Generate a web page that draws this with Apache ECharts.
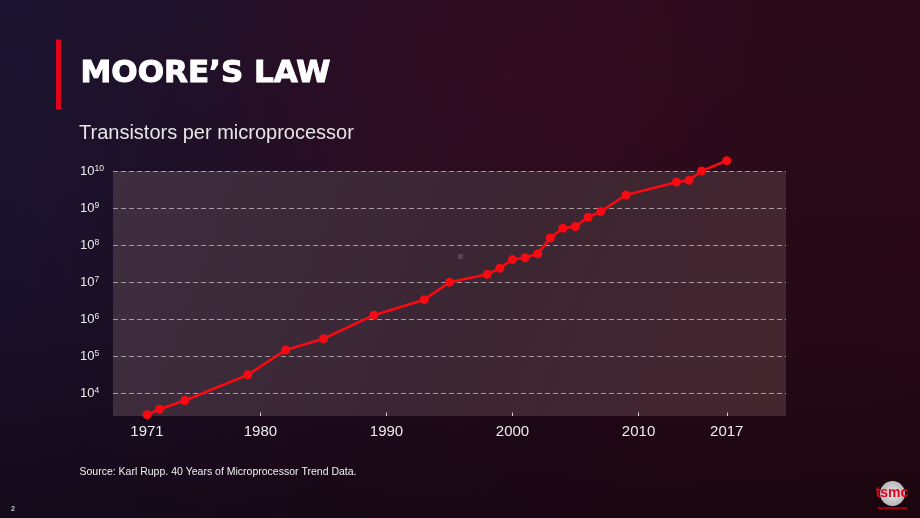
<!DOCTYPE html>
<html>
<head>
<meta charset="utf-8">
<script src="https://cdn.jsdelivr.net/npm/echarts@6/dist/echarts.min.js"></script>
<style>
html,body{margin:0;padding:0;background:#1e0d1f;}
#chart{width:920px;height:518px;}
</style>
</head>
<body>
<div id="chart"></div>
<script>
// ---- data ----
const years = [1971, 1972, 1974, 1979, 1982, 1985, 1989, 1993, 1995, 1998, 1999, 2000, 2001, 2002, 2003, 2004, 2005, 2006, 2007, 2009, 2013, 2014, 2015, 2017];
const transistors = [2700, 3800, 6500, 32000, 150000, 300000, 1300000, 3400000, 10000000, 16500000, 24000000, 41000000, 46000000, 59000000, 156000000, 285000000, 320000000, 565000000, 805000000, 2250000000, 5000000000, 5600000000, 10000000000, 19000000000];
const xTickLabels = [1971, 1980, 1990, 2000, 2010, 2017];
const xTickMarks = [1980, 1990, 2000, 2010, 2017];
const titleText = 'MOORE\u2019S LAW';
const subtitleText = 'Transistors per microprocessor';
const sourceText = 'Source: Karl Rupp. 40 Years of Microprocessor Trend Data.';
const pageNumber = '2';

const chart = echarts.init(document.getElementById('chart'), null, {renderer: 'canvas'});

const sans = '"Liberation Sans", Arial, Helvetica, sans-serif';

const option = {
  animation: false,
  backgroundColor: new echarts.graphic.LinearGradient(0, 0, 1, 0, [
    {offset: 0, color: '#1a1430'},
    {offset: 0.35, color: '#230e25'},
    {offset: 0.7, color: '#2a0b1b'},
    {offset: 1, color: '#2b0a17'}
  ]),
  graphic: [
    {type: 'rect', z: -10, silent: true, shape: {x: 0, y: 0, width: 920, height: 518},
     style: {fill: new echarts.graphic.LinearGradient(0, 0, 0, 1, [
       {offset: 0, color: 'rgba(40,8,22,0.0)'},
       {offset: 0.55, color: 'rgba(20,4,12,0.15)'},
       {offset: 1, color: 'rgba(12,2,8,0.55)'}
     ])}},
    {type: 'rect', z: -9, silent: true, shape: {x: 0, y: 0, width: 920, height: 518},
     style: {fill: new echarts.graphic.RadialGradient(0.55, 0.15, 0.6, [
       {offset: 0, color: 'rgba(70,12,35,0.35)'},
       {offset: 1, color: 'rgba(70,12,35,0)'}
     ])}},
    {type: 'rect', silent: true, shape: {x: 56, y: 39.5, width: 5, height: 70}, style: {fill: '#e3001b'}},
    {type: 'text', silent: true, x: 80.5, y: 74,
     style: {text: titleText, fill: '#ffffff', stroke: '#ffffff', lineWidth: 1,
             font: 'bold 31px "DejaVu Sans", sans-serif',
             textAlign: 'left', textVerticalAlign: 'middle', align: 'left', verticalAlign: 'middle'}},
    {type: 'text', silent: true, x: 79, y: 133.5,
     style: {text: subtitleText, fill: '#e6e6e6', font: '20px ' + sans,
             textAlign: 'left', textVerticalAlign: 'middle', align: 'left', verticalAlign: 'middle'}},
    {type: 'text', silent: true, x: 79.5, y: 472,
     style: {text: sourceText, fill: '#f0f0f0', font: '10.5px ' + sans,
             textAlign: 'left', textVerticalAlign: 'middle', align: 'left', verticalAlign: 'middle'}},
    {type: 'text', silent: true, x: 11, y: 509,
     style: {text: pageNumber, fill: '#c8c8c8', font: 'bold 7px ' + sans,
             textAlign: 'left', textVerticalAlign: 'middle', align: 'left', verticalAlign: 'middle'}},
    {type: 'rect', silent: true, shape: {x: 458, y: 254, width: 5, height: 5}, style: {fill: '#5a4450'}},
    // tsmc logo
    {type: 'circle', silent: true, shape: {cx: 892.5, cy: 493.5, r: 12.5},
     style: {fill: new echarts.graphic.RadialGradient(0.5, 0.5, 0.5, [
       {offset: 0, color: '#e4e4e4'}, {offset: 1, color: '#b8b8b8'}])}},
    {type: 'text', silent: true, x: 892, y: 493,
     style: {text: 'tsmc', fill: '#e2001a', font: 'bold 14px ' + sans,
             textAlign: 'center', textVerticalAlign: 'middle', align: 'center', verticalAlign: 'middle'}},
    {type: 'rect', silent: true, shape: {x: 878, y: 507.5, width: 29, height: 1.2}, style: {fill: '#e2001a'}}
  ],
  grid: {
    left: 113, top: 171, width: 673, height: 245,
    show: true, borderWidth: 0,
    backgroundColor: new echarts.graphic.LinearGradient(0, 0, 1, 1, [
      {offset: 0, color: '#3e2e3f'},
      {offset: 0.5, color: '#3b2633'},
      {offset: 1, color: '#45262f'}
    ])
  },
  xAxis: {
    type: 'value',
    min: 1968.3, max: 2021.7,
    axisLine: {show: false},
    splitLine: {show: false},
    axisTick: {show: true, inside: true, length: 3.5, customValues: xTickMarks,
               lineStyle: {color: '#d0d0d0', width: 1}},
    axisLabel: {show: true, customValues: xTickLabels, margin: 8,
                color: '#ececec', fontSize: 15, fontFamily: sans,
                formatter: function (v) { return String(v); }}
  },
  yAxis: {
    type: 'log', logBase: 10,
    min: 2490, max: 1e10,
    axisLine: {show: false},
    axisTick: {show: false},
    splitLine: {show: true, showMinLine: false,
                lineStyle: {color: 'rgba(200,190,196,0.75)', width: 1, type: [5, 3]}},
    axisLabel: {
      show: true, align: 'left', margin: 33, showMinLabel: false, showMaxLabel: true,
      formatter: function (v) {
        const l = Math.log10(v);
        const e = Math.round(l);
        if (Math.abs(l - e) > 0.01) return '';
        return '{b|10}{s|' + e + '}';
      },
      rich: {
        b: {fontSize: 13, color: '#ececec', fontFamily: sans, lineHeight: 14},
        s: {fontSize: 8.5, color: '#ececec', fontFamily: sans, verticalAlign: 'top', lineHeight: 9}
      }
    }
  },
  series: [{
    type: 'line',
    data: years.map(function (y, i) { return [y, transistors[i]]; }),
    clip: false,
    symbol: 'circle', symbolSize: 9,
    lineStyle: {color: '#f70a12', width: 2.6},
    itemStyle: {color: '#f70a12'},
    z: 5
  }]
};
chart.setOption(option);
</script>
</body>
</html>
